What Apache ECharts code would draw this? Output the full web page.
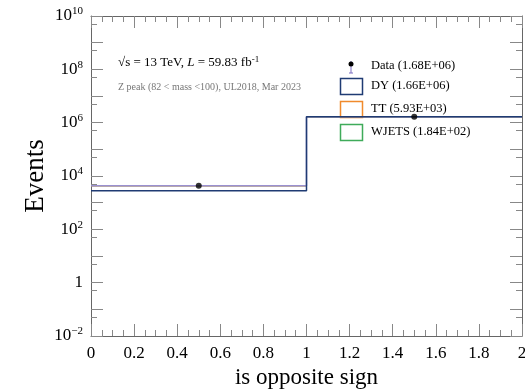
<!DOCTYPE html>
<html>
<head>
<meta charset="utf-8">
<script src="https://cdn.jsdelivr.net/npm/echarts@6/dist/echarts.min.js"></script>
<style>html,body{margin:0;padding:0;background:#fff}#c{width:525px;height:391px}</style>
</head>
<body>
<div id="c"></div>
<script>
// ---- data ----
var binEdges = [0, 1, 2];
var binCenters = [0.5, 1.5];
var dataValues = [4300, 1675700];
var dyValues = [2800, 1657300];
var ttValues = [1450, 4480];
var wjetsValues = [30, 154];
var xTickLabels = ['0','0.2','0.4','0.6','0.8','1','1.2','1.4','1.6','1.8','2'];
var yLabelExponents = [-2, 0, 2, 4, 6, 8, 10];
var yDecadeExponents = [-2,-1,0,1,2,3,4,5,6,7,8,9,10];
var legendNames = ['Data', 'DY', 'TT', 'WJETS'];

var FONT = 'Liberation Serif';
var sum = function(a){return a.reduce(function(s,v){return s+v;},0);};
var fmt = function(v){var s = v.toExponential(2).toUpperCase(); return s.replace(/E([+-])(\d)$/, 'E$10$2');};

function stepData(vals){
  var pts = [];
  for (var i = 0; i < vals.length; i++) pts.push([binEdges[i], vals[i]]);
  pts.push([binEdges[binEdges.length-1], vals[vals.length-1]]);
  return pts;
}
var cumTT = dyValues.map(function(v,i){return v + ttValues[i];});
var cumAll = cumTT.map(function(v,i){return v + wjetsValues[i];});

var labelVals = yLabelExponents.map(function(e){return Math.pow(10,e);});
var decadeVals = yDecadeExponents.map(function(e){return Math.pow(10,e);});
var fiveVals = yDecadeExponents.slice(0,-1).map(function(e){return 5*Math.pow(10,e);});

function yLabel(v){
  var e = Math.round(Math.log10(v));
  if (e === 0) return '1';
  return '{b|10}{s|' + (e < 0 ? '\u2212' + (-e) : e) + '}';
}

var chart = echarts.init(document.getElementById('c'), null, {renderer:'canvas'});
var axisLineColor = '#666';
var tickColor = '#888';

function yAx(pos, ticks, len, showLabel, showLine, name){
  return {
    type: 'log', logBase: 10, min: 0.01, max: 1e10, position: pos,
    name: name || '', nameLocation: 'middle', nameGap: 42, nameMoveOverlap: false,
    nameTextStyle: {fontFamily: FONT, fontSize: 27, color: '#000'},
    axisLine: {show: showLine, lineStyle: {color: axisLineColor, width: 1}},
    axisTick: {show: true, inside: true, length: len, customValues: ticks, lineStyle: {color: tickColor, width: 1}},
    axisLabel: {show: showLabel, customValues: labelVals, formatter: yLabel, margin: 8,
      fontFamily: FONT, fontSize: 17, color: '#000',
      rich: {b: {fontFamily: FONT, fontSize: 17, color: '#000'},
             s: {fontFamily: FONT, fontSize: 11, color: '#000', verticalAlign: 'top', padding: [0,0,9,0]}}},
    splitLine: {show: false}, minorTick: {show: false}
  };
}
function xAx(pos, showLabel, name){
  return {
    type: 'value', min: 0, max: 2, interval: 0.2, position: pos,
    name: name || '', nameLocation: 'middle', nameGap: 30,
    nameTextStyle: {fontFamily: FONT, fontSize: 23, color: '#000'},
    axisLine: {show: true, lineStyle: {color: axisLineColor, width: 1}},
    axisTick: {show: true, inside: true, length: 12, lineStyle: {color: tickColor, width: 1}},
    minorTick: {show: true, splitNumber: 4, length: 6, lineStyle: {color: tickColor, width: 1}},
    axisLabel: {show: showLabel, margin: 9, fontFamily: FONT, fontSize: 17, color: '#000',
      formatter: function(v){ var i = Math.round(v/0.2); return xTickLabels[i]; }},
    splitLine: {show: false}
  };
}

var legendX = 340, legendTextX = 371;
var legendRows = [
  {name: legendNames[0], total: sum(dataValues), y: 67},
  {name: legendNames[1], total: sum(dyValues), y: 87, color: '#1f3b73'},
  {name: legendNames[2], total: sum(ttValues), y: 110, color: '#f08a2c'},
  {name: legendNames[3], total: sum(wjetsValues), y: 133, color: '#3fab5a'}
];
var graphics = [];
legendRows.forEach(function(r, i){
  graphics.push({type: 'text', left: legendTextX, top: r.y - 8,
    style: {text: r.name + ' (' + fmt(r.total) + ')', font: '12.5px "' + FONT + '"', fill: '#000'}});
  if (i > 0) {
    graphics.push({type: 'rect', shape: {x: legendX + 0.5, y: r.y - 8.5, width: 22, height: 16},
      style: {fill: 'none', stroke: r.color, lineWidth: 1.5}});
  }
});
// data marker in legend
graphics.push({type: 'line', shape: {x1: 351, y1: 61, x2: 351, y2: 73}, style: {stroke: '#7a6cc0', lineWidth: 1}});
graphics.push({type: 'line', shape: {x1: 349, y1: 73, x2: 353, y2: 73}, style: {stroke: '#7a6cc0', lineWidth: 1}});
graphics.push({type: 'circle', shape: {cx: 351, cy: 64, r: 2.5}, style: {fill: '#000'}});
// annotations
graphics.push({type: 'text', left: 118, top: 55,
  style: {rich: {n: {font: '13px "' + FONT + '"', fill: '#000'},
                 i: {font: 'italic 13px "' + FONT + '"', fill: '#000'},
                 s: {font: '9px "' + FONT + '"', fill: '#000', verticalAlign: 'top', padding: [0,0,6,0]}},
    text: '{n|\u221As = 13 TeV, }{i|L}{n| = 59.83 fb}{s|-1}'}});
graphics.push({type: 'text', left: 118, top: 82,
  style: {text: 'Z peak (82 < mass <100), UL2018, Mar 2023', font: '10px "' + FONT + '"', fill: '#777'}});

chart.setOption({
  animation: false,
  backgroundColor: '#fff',
  grid: {left: 91, right: 3, top: 16, bottom: 55, outerBoundsMode: 'none', containLabel: false},
  xAxis: [xAx('bottom', true, 'is opposite sign'), xAx('top', false)],
  yAxis: [
    yAx('left', decadeVals, 12, true, true, 'Events'),
    yAx('left', fiveVals, 6, false, false),
    yAx('right', decadeVals, 12, false, true),
    yAx('right', fiveVals, 6, false, false)
  ],
  series: [
    {type: 'line', name: 'WJETS', step: 'end', data: stepData(cumAll), symbol: 'none',
      lineStyle: {color: '#3fab5a', width: 1}, z: 2},
    {type: 'line', name: 'TT', step: 'end', data: stepData(cumTT), symbol: 'none',
      lineStyle: {color: '#f08a2c', width: 1}, z: 3},
    {type: 'line', name: 'total', step: 'end', data: stepData(cumAll), symbol: 'none',
      lineStyle: {color: '#9a90d0', width: 1.5}, z: 4},
    {type: 'line', name: 'DY', step: 'end', data: stepData(dyValues), symbol: 'none',
      lineStyle: {color: '#1f3b73', width: 1.5}, z: 5},
    {type: 'scatter', name: 'Data', data: binCenters.map(function(c,i){return [c, dataValues[i]];}),
      symbol: 'circle', symbolSize: 6, itemStyle: {color: '#000'}, z: 10}
  ],
  graphic: graphics
});
</script>
</body>
</html>
